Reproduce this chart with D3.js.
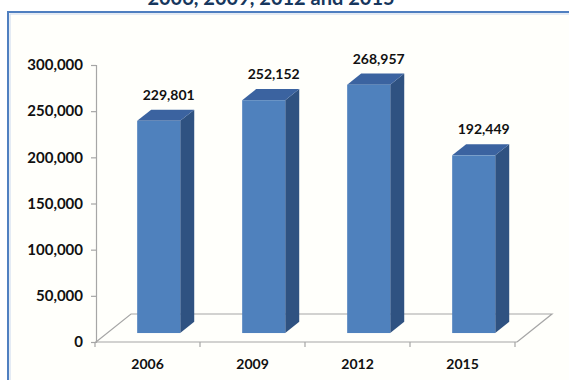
<!DOCTYPE html>
<html>
<head>
<meta charset="utf-8">
<script src="https://cdn.jsdelivr.net/npm/d3@7"></script>
<style>
  body { margin: 0; background: #ffffff; }
  svg { display: block; }
  text { font-family: Lato, "Open Sans", sans-serif; font-weight: bold; }
</style>
</head>
<body>
<div id="chart"></div>
<script>
// chart data
const years = ['2006', '2009', '2012', '2015'];
const counts = [229801, 252152, 268957, 192449];
const yTicks = [0, 50000, 100000, 150000, 200000, 250000, 300000];
const titleText = '2006, 2009, 2012 and 2015';

const width = 569, height = 380;

const svg = d3.select('#chart').append('svg')
    .attr('width', width)
    .attr('height', height);

// title, mostly cut off by the top edge (as in the source)
svg.append('text')
    .attr('x', 271)
    .attr('y', 5)
    .attr('text-anchor', 'middle')
    .style('font-size', '20px')
    .style('fill', '#17375e')
    .text(titleText);

// chart frame
svg.append('rect')
    .attr('x', 8).attr('y', 12)
    .attr('width', 620).attr('height', 420)
    .style('fill', '#fffffb')
    .style('stroke', '#4f7fc0')
    .style('stroke-width', 2);
svg.append('rect')
    .attr('x', 10).attr('y', 14)
    .attr('width', 620).attr('height', 420)
    .style('fill', 'none')
    .style('stroke', '#c9d8ee')
    .style('stroke-width', 1);

// scales
const x = d3.scaleBand()
    .domain(years)
    .range([95, 515])
    .paddingInner(0.59)
    .paddingOuter(0.295);

const y = d3.scaleLinear()
    .domain([0, 300000])
    .range([342, 65]);

// depth of the 3d floor
const floorDx = 35, floorDy = -28;
const frontDepth = 0.32, sideDepth = 0.4;
const fdx = floorDx * frontDepth, fdy = floorDy * frontDepth;
const sdx = floorDx * sideDepth, sdy = floorDy * sideDepth;

const axisColor = '#a6a6a6';

// floor
const x0 = x.range()[0], x1 = x.range()[1];
svg.append('path')
    .attr('d', `M${x0 + 1},${y(0)} L${x0 + 1 + floorDx},${y(0) + floorDy} L${x1 + 2 + floorDx},${y(0) + floorDy} L${x1 + 2},${y(0)}`)
    .style('fill', 'none')
    .style('stroke', axisColor)
    .style('stroke-width', 1.2);

// y axis
const yAxis = d3.axisLeft(y)
    .tickValues(yTicks)
    .tickFormat(d3.format(','))
    .tickSize(5)
    .tickPadding(8);

const gy = svg.append('g')
    .attr('transform', `translate(${x0 + 1},0)`)
    .call(yAxis);
gy.select('.domain').style('stroke', axisColor).style('stroke-width', 1.2);
gy.selectAll('.tick line').style('stroke', axisColor).style('stroke-width', 1.2);
gy.selectAll('.tick text')
    .style('font-size', '15px')
    .style('fill', '#111')
    .style('font-family', 'Lato, sans-serif');

// x axis
const xAxis = d3.axisBottom(x)
    .tickSize(0)
    .tickPadding(17);

const gx = svg.append('g')
    .attr('transform', `translate(0,${y(0)})`)
    .call(xAxis);
gx.select('.domain').remove();
gx.append('line')
    .attr('x1', x0).attr('x2', x1 + 2)
    .attr('y1', 0).attr('y2', 0)
    .style('stroke', axisColor).style('stroke-width', 1.2);
// category separators
const step = x.step();
gx.selectAll('.sep')
    .data(d3.range(years.length + 1))
    .enter().append('line')
    .attr('class', 'sep')
    .attr('x1', i => x0 + i * step)
    .attr('x2', i => x0 + i * step)
    .attr('y1', 0).attr('y2', 5)
    .style('stroke', axisColor).style('stroke-width', 1.2);
gx.selectAll('.tick text')
    .style('font-size', '14px')
    .style('fill', '#111')
    .style('font-family', 'Lato, sans-serif');

// 3d bars
const data = years.map((yr, i) => ({ year: yr, value: counts[i] }));
const bw = x.bandwidth();

const bars = svg.selectAll('.bar')
    .data(data)
    .enter().append('g')
    .attr('class', 'bar');

// side face
bars.append('path')
    .attr('d', d => {
        const l = x(d.year) + fdx, r = l + bw;
        const t = y(d.value) + fdy, b = y(0) + fdy;
        return `M${r},${b} L${r + sdx},${b + sdy} L${r + sdx},${t + sdy} L${r},${t} Z`;
    })
    .style('fill', '#2f5281');

// top face
bars.append('path')
    .attr('d', d => {
        const l = x(d.year) + fdx, r = l + bw;
        const t = y(d.value) + fdy;
        return `M${l},${t} L${l + sdx},${t + sdy} L${r + sdx},${t + sdy} L${r},${t} Z`;
    })
    .style('fill', '#3b63a0');

// front face
bars.append('rect')
    .attr('x', d => x(d.year) + fdx)
    .attr('y', d => y(d.value) + fdy)
    .attr('width', bw)
    .attr('height', d => y(0) - y(d.value))
    .style('fill', '#4f81bd');

// value labels
bars.append('text')
    .attr('x', d => x(d.year) + fdx + bw / 2 + 10)
    .attr('y', d => y(d.value) + fdy + sdy - 10)
    .attr('text-anchor', 'middle')
    .style('font-size', '14px')
    .style('fill', '#111')
    .text(d => d3.format(',')(d.value));
</script>
</body>
</html>
